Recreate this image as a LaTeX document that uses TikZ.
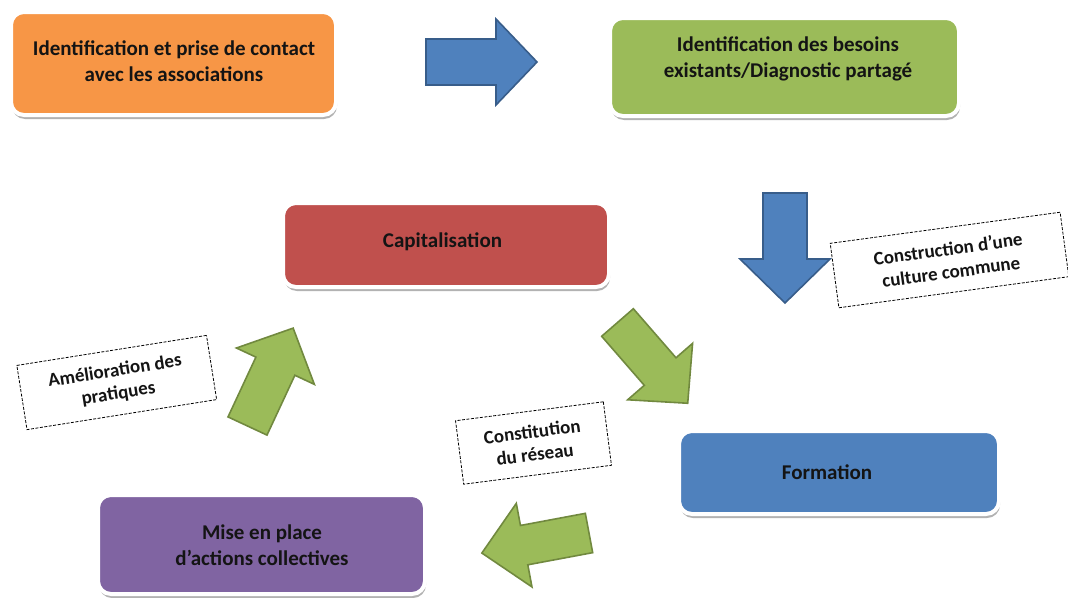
\documentclass[tikz,border=0pt]{standalone}
\usepackage{fontspec}
\setmainfont{Carlito}
\usetikzlibrary{shadows}
\definecolor{cOrange}{HTML}{F79646}
\definecolor{cGreen}{HTML}{9BBB59}
\definecolor{cGreenD}{HTML}{71893F}
\definecolor{cRed}{HTML}{C0504D}
\definecolor{cBlue}{HTML}{4F81BD}
\definecolor{cBlueD}{HTML}{385D8A}
\definecolor{cPurple}{HTML}{8064A2}
\definecolor{textc}{HTML}{141414}
% #1 style, #2 x, #3 y (base centre), #4 angle, #5 length, #6 shaft half width, #7 head half width, #8 head length
\newcommand\blockarr[8]{%
  \draw[#1, shift={(#2,#3)}, rotate=#4]
    (0,-#6) -- ({#5-#8},-#6) -- ({#5-#8},-#7) -- (#5,0) -- ({#5-#8},#7) -- ({#5-#8},#6) -- (0,#6) -- cycle;}
\begin{document}
\begin{tikzpicture}[x=1pt,y=-1pt,
  box/.style={draw=white, line width=4pt, rounded corners=13pt,
    drop shadow={shadow xshift=1pt, shadow yshift=-4pt, opacity=0.3, fill=black}},
  txt/.style={align=center, font=\fontsize{21}{26}\selectfont\bfseries, text=textc, inner sep=0pt},
  lbl/.style={draw=black, dash pattern=on 3pt off 1.5pt, line width=0.8pt, fill=white,
    align=center, font=\fontsize{19}{23}\selectfont\bfseries, text=textc, inner sep=0pt},
  barrowB/.style={fill=cBlue, draw=cBlueD, line width=1.6pt},
  barrowG/.style={fill=cGreen, draw=cGreenD, line width=1.6pt}]
\useasboundingbox (0,0) rectangle (1068,597);

% boxes
\node[box, fill=cOrange, minimum width=325, minimum height=103] (b1) at (173.5,63.5) {};
\node[txt] (t1) at (174,61) {Identification et prise de contact\\avec les associations};

\node[box, fill=cGreen, minimum width=349, minimum height=98] (b2) at (784.5,67) {};
\node[txt] (t2) at (788,58.5) {Identification des besoins\\existants/Diagnostic partagé};

\node[box, fill=cRed, minimum width=326, minimum height=84] (b3) at (446,245) {};
\node[txt] (t3) at (442.5,242) {Capitalisation};

\node[box, fill=cBlue, minimum width=320, minimum height=83] (b4) at (839,472.5) {};
\node[txt] (t4) at (827,472) {Formation};

\node[box, fill=cPurple, minimum width=327, minimum height=99] (b5) at (261.5,544.5) {};
\node[txt] (t5) at (262,545) {Mise en place\\d’actions collectives};

% block arrows
\blockarr{barrowB}{426}{62}{0}{111}{23}{43}{41}
\blockarr{barrowB}{785}{193}{-90}{110}{22}{45}{44}
\blockarr{barrowG}{617.5}{322.5}{-49}{107}{21}{43}{42}
\blockarr{barrowG}{589}{533}{-169.4}{109}{20}{42.5}{43}
\blockarr{barrowG}{247.5}{426}{65}{108}{21.5}{43}{42}

% dashed labels
\node[lbl, rotate=7.7, minimum width=232, minimum height=65] (l1) at (949.5,260) {Construction d’une\\culture commune};
\node[lbl, rotate=9, minimum width=192, minimum height=65] (l2) at (116.75,382.5) {Amélioration des\\pratiques};
\node[lbl, rotate=7.3, minimum width=149, minimum height=64] (l3) at (533.5,443) {Constitution\\du réseau};
\end{tikzpicture}
\end{document}
